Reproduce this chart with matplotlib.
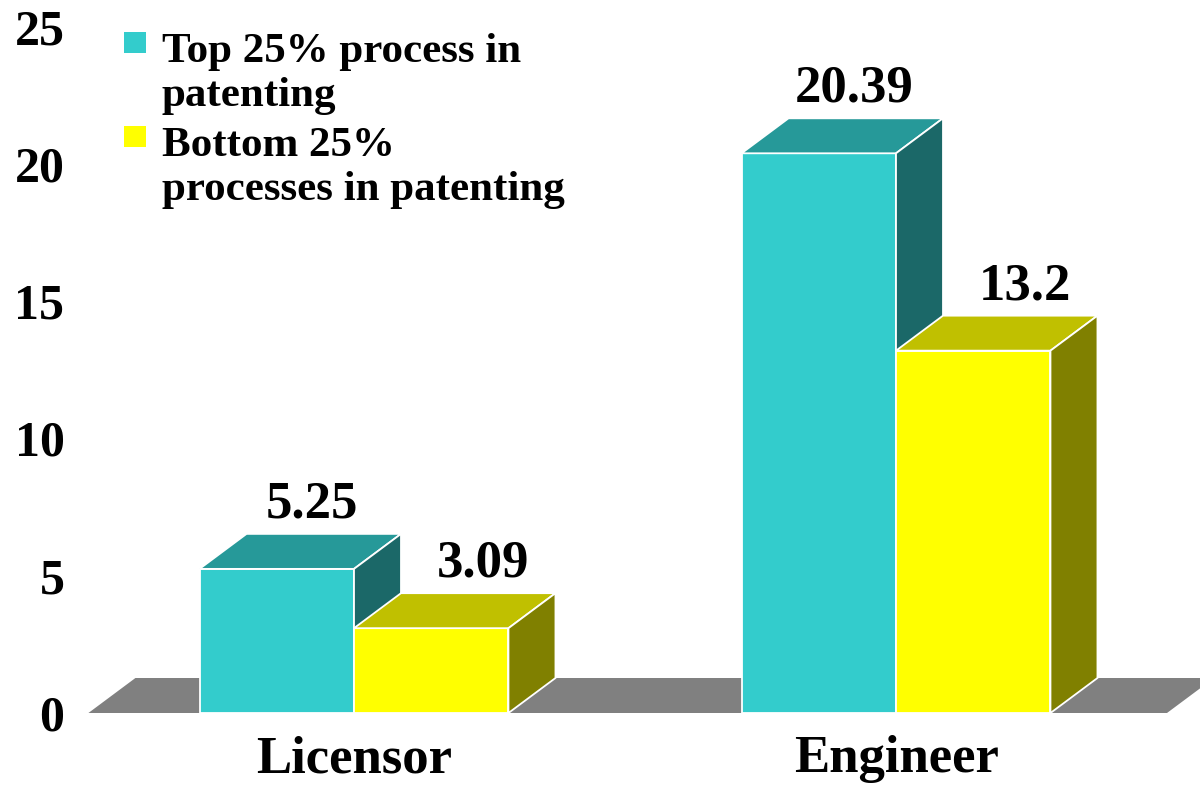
import matplotlib.pyplot as plt
from matplotlib.patches import Polygon, Rectangle

# data
categories = ["Licensor", "Engineer"]
series_names = ["Top 25% process in\npatenting", "Bottom 25%\nprocesses in patenting"]
top25 = [5.25, 20.39]
bottom25 = [3.09, 13.2]
yticks = [0, 5, 10, 15, 20, 25]

# colours: front, top, side
cyan = ("#33CCCC", "#269999", "#1B6868")
yellow = ("#FFFF00", "#C0C000", "#808000")
floor_col = "#808080"

plt.rcParams["font.family"] = ["Liberation Serif", "DejaVu Serif"]
plt.rcParams["font.weight"] = "bold"

W, H = 1200, 792
fig = plt.figure(figsize=(W / 100, H / 100), dpi=100)

# axes placed so that one category step is 542 px and one unit is 27.45 px
px_x, px_y = 542.0, 27.45
left_px, zero_px = 88, 713
ax = fig.add_axes([left_px / W, (H - zero_px) / H, 1 - left_px / W, zero_px / H])
ax.set_xlim(-(354 - left_px) / px_x, (W - 354) / px_x)
ax.set_ylim(0, zero_px / px_y)

# depth offset of the pseudo 3d boxes
dx, dy = 47 / px_x, 35 / px_y
bw = 0.285


def box(x0, x1, v, cols, z):
    front, top, side = cols
    kw = dict(edgecolor="white", linewidth=1.3, clip_on=False, zorder=z)
    ax.add_patch(Polygon([(x0, 0), (x1, 0), (x1, v), (x0, v)], facecolor=front, **kw))
    ax.add_patch(Polygon([(x0, v), (x1, v), (x1 + dx, v + dy), (x0 + dx, v + dy)],
                         facecolor=top, **kw))
    ax.add_patch(Polygon([(x1, 0), (x1 + dx, dy), (x1 + dx, v + dy), (x1, v)],
                         facecolor=side, **kw))


# floor
fl0, fl1 = -0.49, 1.5
ax.add_patch(Polygon([(fl0, 0), (fl1, 0), (fl1 + dx, dy), (fl0 + dx, dy)],
                     facecolor=floor_col, edgecolor="none", clip_on=False, zorder=1))

for i, (a, b) in enumerate(zip(top25, bottom25)):
    box(i - bw, i, a, cyan, 2 + 2 * i)
    box(i, i + bw, b, yellow, 3 + 2 * i)
    # value labels sit above the back edge of each top face
    for xc, v, off in ((i - bw / 2, a, 35), (i + bw / 2, b, 52)):
        ax.text(xc + off / px_x, v + dy + 0.2, f"{v:g}", ha="center", va="bottom",
                fontsize=38, fontweight="bold", zorder=10)

ax.set_yticks(yticks)
ax.set_yticklabels([str(t) for t in yticks], fontsize=36, fontweight="bold")
ax.set_xticks(range(len(categories)))
ax.set_xticklabels(categories, fontsize=38, fontweight="bold")
ax.tick_params(axis="y", length=0, pad=17)
ax.tick_params(axis="x", length=0, pad=16)
for s in ax.spines.values():
    s.set_visible(False)
ax.patch.set_visible(False)

# legend
for k, (name, cols) in enumerate(zip(series_names, (cyan, yellow))):
    y0 = 65 + 94 * k
    fig.add_artist(Rectangle((124 / W, 1 - (y0 - 12) / H), 22 / W, 21 / H,
                             transform=fig.transFigure, facecolor=cols[0],
                             edgecolor="none"))
    fig.text(162 / W, 1 - (y0 - 32) / H, name, ha="left", va="top", fontsize=31,
             fontweight="bold", linespacing=1.22)

fig.savefig("out.png", dpi=100)
